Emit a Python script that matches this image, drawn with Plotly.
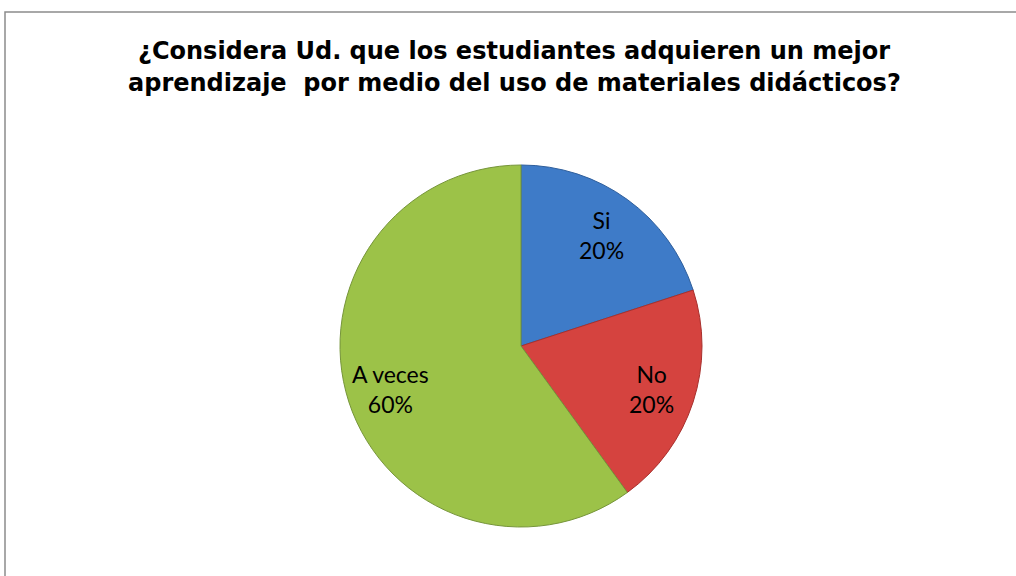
import math
import plotly.graph_objects as go

# Respuestas de la encuesta
categorias = ["Si", "No", "A veces"]
porcentajes = [20, 20, 60]
colores = ["#3e7bc8", "#d5433f", "#9cc248"]
bordes = ["#2f5f9c", "#a8302d", "#76953a"]

titulo = ["¿Considera Ud. que los estudiantes adquieren un mejor",
          "aprendizaje  por medio del uso de materiales didácticos?"]

W, H = 1016, 576

# area del pastel (px)
px0, px1 = 340, 702
py0, py1 = 164, 528
dom_x = [px0 / W, px1 / W]
dom_y = [1 - py1 / H, 1 - py0 / H]

fig = go.Figure()

fig.add_trace(go.Pie(
    labels=categorias,
    values=porcentajes,
    sort=False,
    direction="clockwise",
    rotation=0,
    marker=dict(colors=colores, line=dict(color=bordes, width=1)),
    textinfo="none",
    domain=dict(x=dom_x, y=dom_y),
    showlegend=False,
    hoverinfo="label+percent",
))

# etiquetas dentro de cada porcion, en el angulo medio
cx = (px0 + px1) / 2
cy = (py0 + py1) / 2
radio = min(px1 - px0, py1 - py0) / 2
total = sum(porcentajes)
acum = 0
for cat, val in zip(categorias, porcentajes):
    medio = (acum + val / 2) / total * 2 * math.pi
    acum += val
    r = 0.76 * radio
    x = cx + r * math.sin(medio)
    y = cy - r * math.cos(medio)
    fig.add_annotation(
        text=f"{cat}<br>{val / total:.0%}",
        x=x / W, y=1 - y / H,
        xref="paper", yref="paper",
        xanchor="center", yanchor="middle",
        showarrow=False, align="center",
        font=dict(family="Lato, Carlito, Calibri, sans-serif", size=23, color="#000000"),
    )

# Titulo en dos lineas
for i, linea in enumerate(titulo):
    fig.add_annotation(
        text=f"<b>{linea}</b>",
        x=514 / W, y=1 - (67 + 32 * i) / H,
        xref="paper", yref="paper",
        xanchor="center", yanchor="bottom",
        showarrow=False,
        font=dict(family="DejaVu Sans, Arial, sans-serif", size=24, color="#000000"),
    )

# Marco del grafico
fig.add_shape(
    type="rect",
    xref="paper", yref="paper",
    x0=5 / W, x1=1.02, y0=-0.02, y1=1 - 12 / H,
    line=dict(color="#8c8c8c", width=1.5),
    fillcolor="rgba(0,0,0,0)",
)

fig.update_layout(
    width=W, height=H,
    margin=dict(l=0, r=0, t=0, b=0),
    paper_bgcolor="white",
    plot_bgcolor="white",
)

fig.write_html("out.html", config={"displayModeBar": False},
               post_script="document.body.style.margin='0';")
